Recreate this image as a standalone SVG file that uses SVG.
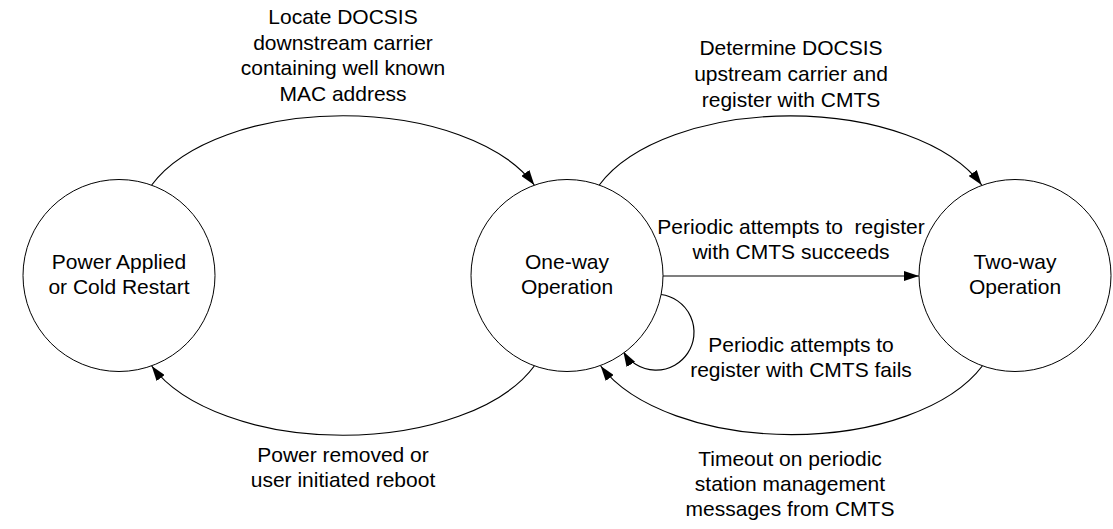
<svg xmlns="http://www.w3.org/2000/svg" width="1113" height="529" viewBox="0 0 1113 529">
<style>
  .node { fill: #ffffff; stroke: #000000; stroke-width: 1; }
  .t { font-family: "Liberation Sans", Arial, sans-serif; font-size: 21px; fill: #000000; text-anchor: middle; }
  .edge { fill: none; stroke: #000000; stroke-width: 1.2; marker-end: url(#arrow); }
</style>
<defs>
  <marker id="arrow" markerUnits="userSpaceOnUse" markerWidth="15" markerHeight="10" refX="15" refY="5" orient="auto" viewBox="0 0 15 10">
    <path d="M0,0 L15,5 L0,10 Z" fill="#000000"/>
  </marker>
</defs>
<rect width="1113" height="529" fill="#ffffff"/>

<g id="connectors">
  <path class="edge" d="M151.7,185 A205.6,109.3 0 0 1 534.3,185"/>
  <path class="edge" d="M599.3,185 A205.6,109.3 0 0 1 981.7,185"/>
  <path class="edge" d="M662.7,276 L919,276"/>
  <path class="edge" d="M661,294.5 A38,38 0 1 1 623.3,351.5"/>
  <path class="edge" d="M982.3,366 A205.6,109.3 0 0 1 600.7,366"/>
  <path class="edge" d="M534.3,366 A205.6,109.3 0 0 1 151.7,366"/>
</g>

<g id="node-power">
  <circle class="node" cx="119" cy="275.5" r="96"/>
  <text class="t" x="119" y="269">Power Applied</text>
  <text class="t" x="119" y="294">or Cold Restart</text>
</g>
<g id="node-oneway">
  <circle class="node" cx="567" cy="275.5" r="96"/>
  <text class="t" x="567" y="269">One-way</text>
  <text class="t" x="567" y="294">Operation</text>
</g>
<g id="node-twoway">
  <circle class="node" cx="1015" cy="275.5" r="96"/>
  <text class="t" x="1015" y="269">Two-way</text>
  <text class="t" x="1015" y="294">Operation</text>
</g>

<g id="labels">
  <text class="t" x="343" y="24">Locate DOCSIS</text>
  <text class="t" x="343" y="49.5">downstream carrier</text>
  <text class="t" x="343" y="75">containing well known</text>
  <text class="t" x="343" y="100.5">MAC address</text>

  <text class="t" x="791" y="55">Determine DOCSIS</text>
  <text class="t" x="791" y="81">upstream carrier and</text>
  <text class="t" x="791" y="106.5">register with CMTS</text>

  <text class="t" x="791" y="234" xml:space="preserve">Periodic attempts to  register</text>
  <text class="t" x="791" y="259">with CMTS succeeds</text>

  <text class="t" x="801" y="351.5">Periodic attempts to</text>
  <text class="t" x="801" y="376.5">register with CMTS fails</text>

  <text class="t" x="790" y="465.5">Timeout on periodic</text>
  <text class="t" x="790" y="490.5">station management</text>
  <text class="t" x="790" y="515.5">messages from CMTS</text>

  <text class="t" x="343" y="462">Power removed or</text>
  <text class="t" x="343" y="487">user initiated reboot</text>
</g>
</svg>
